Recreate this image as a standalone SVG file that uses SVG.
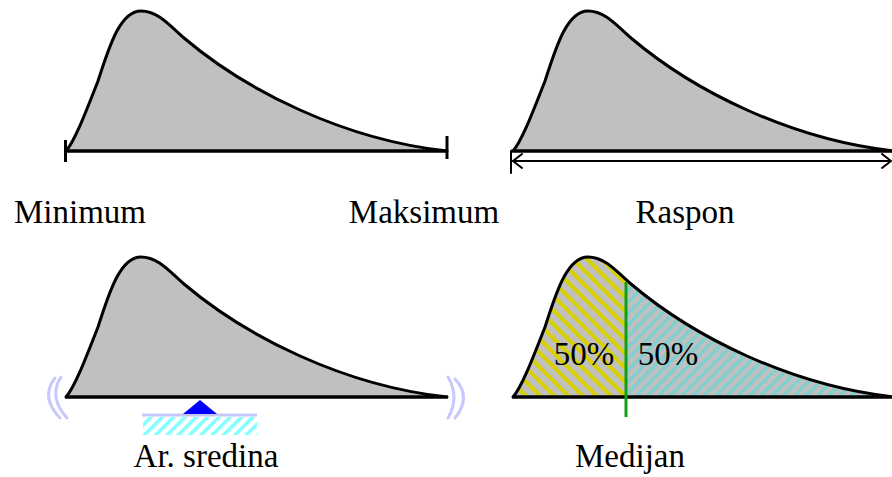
<svg xmlns="http://www.w3.org/2000/svg" xmlns:xlink="http://www.w3.org/1999/xlink" width="892" height="477" viewBox="0 0 892 477">
<style>
.dist{fill:#c0c0c0;stroke:#000;stroke-width:3;stroke-linejoin:round}
.base{stroke:#000;stroke-width:3;fill:none}
.thin{stroke:#000;stroke-width:2;fill:none;stroke-linecap:round;stroke-linejoin:round}
.wave{stroke:#c8c8ff;stroke-width:3;fill:none;stroke-linecap:round}
.lbl{font-family:"Liberation Serif","Times New Roman",serif;font-size:33px;fill:#000;text-anchor:middle}
</style>
<defs>
<path id="curve" d="M0,0 C9,-10 21,-42 32,-70 C42,-100 53,-140 75,-140 C92,-140 104,-125 118,-113 C157,-80 195,-58.5 234,-41 C283,-19 335,-5 381,0 Z"/>
<clipPath id="clipMed">
<path transform="translate(513,397)" d="M0,0 C9,-10 21,-42 32,-70 C42,-100 53,-140 75,-140 C92,-140 104,-125 118,-113 C157,-80 195,-58.5 234,-41 C283,-19 335,-5 381,0 Z"/>
</clipPath>
<pattern id="hatchY" patternUnits="userSpaceOnUse" width="10" height="10" patternTransform="rotate(-45)">
<rect x="0" y="0" width="4" height="10" fill="#d8d000"/>
</pattern>
<pattern id="hatchC" patternUnits="userSpaceOnUse" width="8" height="8" patternTransform="rotate(45)">
<rect x="0" y="0" width="3.5" height="8" fill="#80d0d0"/>
</pattern>
<pattern id="hatchG" patternUnits="userSpaceOnUse" width="8" height="8" patternTransform="rotate(45)">
<rect x="0" y="0" width="3.5" height="8" fill="#80ffff"/>
</pattern>
</defs>

<g id="minmax">
<use xlink:href="#curve" href="#curve" class="dist" transform="translate(66,151)"/>
<line class="base" x1="65" y1="151" x2="447" y2="151"/>
<line class="base" x1="65.5" y1="140" x2="65.5" y2="162"/>
<line class="base" x1="447" y1="136" x2="447" y2="159"/>
<text class="lbl" x="80" y="223">Minimum</text>
<text class="lbl" x="424" y="223">Maksimum</text>
</g>

<g id="raspon">
<use xlink:href="#curve" href="#curve" class="dist" transform="translate(513,151)"/>
<line class="base" x1="511" y1="151" x2="892" y2="151"/>
<line class="thin" x1="511" y1="151" x2="511" y2="173"/>
<line class="thin" x1="513" y1="161" x2="890" y2="161"/>
<polyline class="thin" points="522,154 513,161 522,168"/>
<polyline class="thin" points="882,154 891,161 882,168"/>
<text class="lbl" x="685" y="223">Raspon</text>
</g>

<g id="sredina">
<path class="wave" d="M55,378 Q40,397 60,418"/>
<path class="wave" d="M61,377 Q48,397 67,418"/>
<path class="wave" d="M448,377 Q460,397 448,418"/>
<path class="wave" d="M455,379 Q472,397 455,418"/>
<use xlink:href="#curve" href="#curve" class="dist" transform="translate(66,397)"/>
<line class="base" x1="65" y1="397" x2="448" y2="397"/>
<rect x="143" y="417" width="114" height="18" fill="url(#hatchG)"/>
<line x1="142" y1="415" x2="257" y2="415" stroke="#c8c8f8" stroke-width="3"/>
<polygon points="200,400 183,414 217,414" fill="#0000ff"/>
<text class="lbl" x="206" y="467">Ar. sredina</text>
</g>

<g id="medijan">
<use xlink:href="#curve" href="#curve" fill="#c0c0c0" transform="translate(513,397)"/>
<g clip-path="url(#clipMed)">
<rect x="505" y="250" width="121" height="150" fill="url(#hatchY)"/>
<rect x="626" y="250" width="270" height="150" fill="url(#hatchC)"/>
</g>
<use xlink:href="#curve" href="#curve" fill="none" stroke="#000" stroke-width="3" stroke-linejoin="round" transform="translate(513,397)"/>
<line class="base" x1="512" y1="397" x2="892" y2="397"/>
<line x1="626" y1="282" x2="626" y2="417" stroke="#10a010" stroke-width="3"/>
<text class="lbl" x="584" y="365">50%</text>
<text class="lbl" x="668" y="365">50%</text>
<text class="lbl" x="630" y="467">Medijan</text>
</g>
</svg>
